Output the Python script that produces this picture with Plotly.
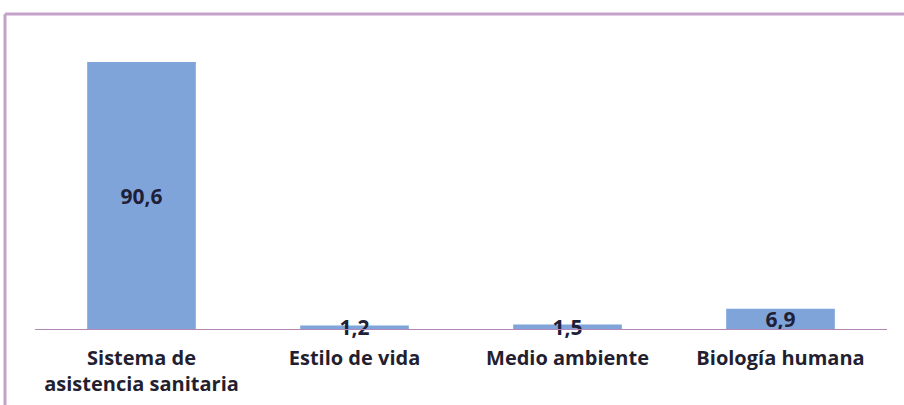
import plotly.graph_objects as go

categories = ["Sistema de<br>asistencia sanitaria", "Estilo de vida", "Medio ambiente", "Biología humana"]
values = [90.6, 1.2, 1.5, 6.9]

W, H = 904, 405
ml, mr, mt, mb = 35, 17, 30, 76
plot_w = W - ml - mr
plot_h = H - mt - mb

fig = go.Figure(go.Bar(
    x=categories,
    y=values,
    marker=dict(color="#7FA4DA", line=dict(width=0)),
    texttemplate="%{y:.1f}",
    textposition="inside",
    insidetextanchor="middle",
    constraintext="none",
    textfont=dict(family="Open Sans", size=21, color="#1f1f38", weight="bold"),
    cliponaxis=False,
))

# decorative frame (screenshot border)
fx0 = (5 - ml) / plot_w
fy1 = (H - mb - 14) / plot_h
fig.add_shape(type="line", xref="paper", yref="paper", x0=fx0, x1=1.2, y0=fy1, y1=fy1,
              line=dict(color="#C6A2CA", width=3), layer="above")
fig.add_shape(type="line", xref="paper", yref="paper", x0=fx0, x1=fx0, y0=fy1, y1=-0.5,
              line=dict(color="#C6A2CA", width=3), layer="above")

fig.update_layout(
    width=W, height=H,
    margin=dict(l=ml, r=mr, t=mt, b=mb, autoexpand=False),
    paper_bgcolor="white",
    plot_bgcolor="white",
    separators=",.",
    bargap=0.49,
    showlegend=False,
    xaxis=dict(
        automargin=False,
        showline=True, linecolor="#B387B8", linewidth=1,
        ticks="outside", ticklen=11, tickcolor="rgba(0,0,0,0)",
        tickfont=dict(family="Open Sans", size=20, color="#241f30", weight="bold"),
        showgrid=False,
    ),
    yaxis=dict(range=[0, 101.5], visible=False, showgrid=False, zeroline=False, automargin=False),
)

fig.write_html("out.html")
